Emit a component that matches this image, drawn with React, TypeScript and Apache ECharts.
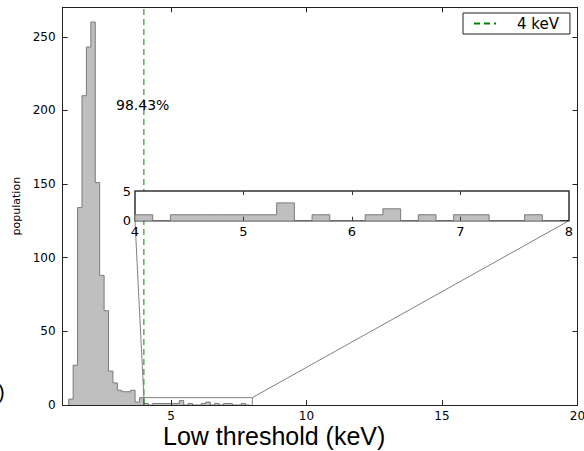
import React, { useEffect, useRef } from 'react';
import * as echarts from 'echarts';

// ---- data ----
const binWidth = 0.1632; // keV
const lowStart = 1.226; // left edge of the first bin (keV)
const lowCounts = [4, 27, 134, 210, 243, 260, 151, 88, 64, 23, 15, 10, 9, 9, 10, 2, 5];
const highStart = 4.0;
const highCounts = [1, 0, 1, 1, 1, 1, 1, 1, 3, 0, 1, 0, 0, 1, 2, 0, 1, 0, 1, 1, 0, 0, 1, 0];
const threshold = 4; // keV
const thresholdLabel = '4 keV';
const fractionLabel = '98.43%';
const xRange = [1, 20];
const yRange = [0, 270];
const xTickValues = [5, 10, 15, 20];
const yTickValues = [0, 50, 100, 150, 200, 250];
const insetXRange = [4, 8];
const insetYRange = [0, 5];
const insetXTickLabels = [4, 5, 6, 7, 8];
const insetXTickMarks = [5, 6, 7];
const insetYTickLabels = [0, 5];

const FONT = 'DejaVu Sans';

function stepData(start: number, w: number, counts: number[]) {
  const pts: number[][] = [[start, 0]];
  counts.forEach((c, i) => pts.push([start + i * w, c]));
  pts.push([start + counts.length * w, 0]);
  return pts;
}

export default function App() {
  const ref = useRef<HTMLDivElement>(null);
  useEffect(() => {
    const chart = echarts.init(ref.current!, null, { renderer: 'svg', width: 584, height: 451 });
    const frame = { show: true, onZero: false, lineStyle: { color: '#222', width: 1 } };
    const mainTick = (vals: number[]) => ({ show: true, inside: true, length: 5, customValues: vals, lineStyle: { color: '#222', width: 1 } });
    const insetTick = (vals: number[]) => ({ show: true, inside: true, length: 4, customValues: vals, lineStyle: { color: '#333', width: 1 } });
    const allCounts = lowCounts.concat(highCounts);
    const option: any = {
      animation: false,
      backgroundColor: '#fff',
      grid: [
        { left: 62.6, right: 6.5, top: 7.3, bottom: 46, containLabel: false, outerBoundsMode: 'none', show: false },
        {
          left: 135, top: 191, width: 434, height: 29.7, containLabel: false, outerBoundsMode: 'none',
          show: true, backgroundColor: '#fff', borderColor: '#333', borderWidth: 1.5, z: 10,
        },
      ],
      xAxis: [
        {
          gridIndex: 0, type: 'value', min: xRange[0], max: xRange[1], position: 'bottom', z: 4,
          axisLine: frame, axisTick: mainTick(xTickValues), splitLine: { show: false },
          axisLabel: { customValues: xTickValues, margin: 5, color: '#000', fontSize: 12, fontFamily: FONT },
        },
        {
          gridIndex: 0, type: 'value', min: xRange[0], max: xRange[1], position: 'top', z: 4,
          axisLine: frame, axisTick: mainTick(xTickValues), splitLine: { show: false }, axisLabel: { show: false },
        },
        {
          gridIndex: 1, type: 'value', min: insetXRange[0], max: insetXRange[1], position: 'bottom', z: 12,
          axisLine: { show: false }, axisTick: insetTick(insetXTickMarks), splitLine: { show: false },
          axisLabel: { customValues: insetXTickLabels, margin: 4, color: '#000', fontSize: 13, fontFamily: FONT },
        },
        {
          gridIndex: 1, type: 'value', min: insetXRange[0], max: insetXRange[1], position: 'top', z: 12,
          axisLine: { show: false }, axisTick: insetTick(insetXTickMarks), splitLine: { show: false }, axisLabel: { show: false },
        },
      ],
      yAxis: [
        {
          gridIndex: 0, type: 'value', min: yRange[0], max: yRange[1], position: 'left', z: 4,
          axisLine: frame, axisTick: mainTick(yTickValues), splitLine: { show: false },
          axisLabel: { customValues: yTickValues, margin: 7, color: '#000', fontSize: 12, fontFamily: FONT },
          name: 'population', nameLocation: 'middle', nameGap: 40,
          nameTextStyle: { fontSize: 11, fontFamily: FONT, color: '#000' },
        },
        {
          gridIndex: 0, type: 'value', min: yRange[0], max: yRange[1], position: 'right', z: 4,
          axisLine: frame, axisTick: mainTick(yTickValues), splitLine: { show: false }, axisLabel: { show: false },
        },
        {
          gridIndex: 1, type: 'value', min: insetYRange[0], max: insetYRange[1], position: 'left', z: 12,
          axisLine: { show: false }, axisTick: { show: false }, splitLine: { show: false },
          axisLabel: { customValues: insetYTickLabels, margin: 4, color: '#000', fontSize: 13, fontFamily: FONT },
        },
      ],
      legend: {
        data: [thresholdLabel], left: 463, top: 13, orient: 'horizontal',
        padding: [3, 11, 3, 10], itemWidth: 22, itemHeight: 14,
        borderColor: '#222', borderWidth: 1, borderRadius: 0, backgroundColor: '#fff',
        itemStyle: { opacity: 0, borderWidth: 0 },
        textStyle: { fontSize: 15, fontFamily: FONT, color: '#000', padding: [0, 0, 0, 16] },
      },
      series: [
        {
          type: 'line', name: 'histogram', xAxisIndex: 0, yAxisIndex: 0, data: stepData(lowStart, binWidth, allCounts),
          step: 'end', symbol: 'none', silent: true, z: 2,
          lineStyle: { color: '#7a7a7a', width: 1 }, areaStyle: { color: '#bfbfbf', opacity: 1 },
        },
        {
          type: 'line', name: 'zoom', xAxisIndex: 0, yAxisIndex: 0, symbol: 'none', silent: true, z: 3,
          data: [[insetXRange[0], insetYRange[0]], [insetXRange[0], insetYRange[1]], [insetXRange[1], insetYRange[1]], [insetXRange[1], insetYRange[0]]],
          lineStyle: { color: '#808080', width: 1 },
        },
        {
          type: 'line', name: thresholdLabel, xAxisIndex: 0, yAxisIndex: 0, symbol: 'none', silent: true, z: 3,
          data: [[threshold, yRange[0]], [threshold, yRange[1]]],
          lineStyle: { color: '#008000', width: 1, type: [6, 4] }, itemStyle: { color: '#008000' },
        },
        {
          type: 'line', name: 'inset', xAxisIndex: 2, yAxisIndex: 2, data: stepData(highStart, binWidth, highCounts),
          step: 'end', symbol: 'none', silent: true, z: 11,
          lineStyle: { color: '#7a7a7a', width: 1 }, areaStyle: { color: '#bfbfbf', opacity: 1 },
        },
      ],
    };
    chart.setOption(option);

    const insetLL = chart.convertToPixel({ xAxisIndex: 2, yAxisIndex: 2 } as any, [insetXRange[0], insetYRange[0]]) as number[];
    const insetLR = chart.convertToPixel({ xAxisIndex: 2, yAxisIndex: 2 } as any, [insetXRange[1], insetYRange[0]]) as number[];
    const boxUL = chart.convertToPixel({ xAxisIndex: 0, yAxisIndex: 0 } as any, [insetXRange[0], insetYRange[1]]) as number[];
    const boxUR = chart.convertToPixel({ xAxisIndex: 0, yAxisIndex: 0 } as any, [insetXRange[1], insetYRange[1]]) as number[];

    chart.setOption({
      graphic: [
        { type: 'line', z: 5, silent: true, shape: { x1: insetLL[0], y1: insetLL[1], x2: boxUL[0], y2: boxUL[1] }, style: { stroke: '#808080', lineWidth: 1 } },
        { type: 'line', z: 5, silent: true, shape: { x1: insetLR[0], y1: insetLR[1], x2: boxUR[0], y2: boxUR[1] }, style: { stroke: '#808080', lineWidth: 1 } },
        { type: 'text', z: 6, x: 116, y: 105, style: { text: fractionLabel, fontSize: 14, fontFamily: FONT, fill: '#000', align: 'left', verticalAlign: 'middle' } },
        { type: 'text', z: 6, x: 163, y: 436, style: { text: 'Low threshold (keV)', fontSize: 25, fontFamily: 'Liberation Sans', fill: '#000', align: 'left', verticalAlign: 'middle' } },
        { type: 'text', z: 6, x: -2, y: 392, style: { text: ')', fontSize: 20, fontFamily: 'Liberation Sans', fill: '#000', align: 'left', verticalAlign: 'middle' } },
      ],
    });
    return () => chart.dispose();
  }, []);
  return <div ref={ref} style={{ position: 'fixed', left: 0, top: 0, width: 584, height: 451 }} />;
}
